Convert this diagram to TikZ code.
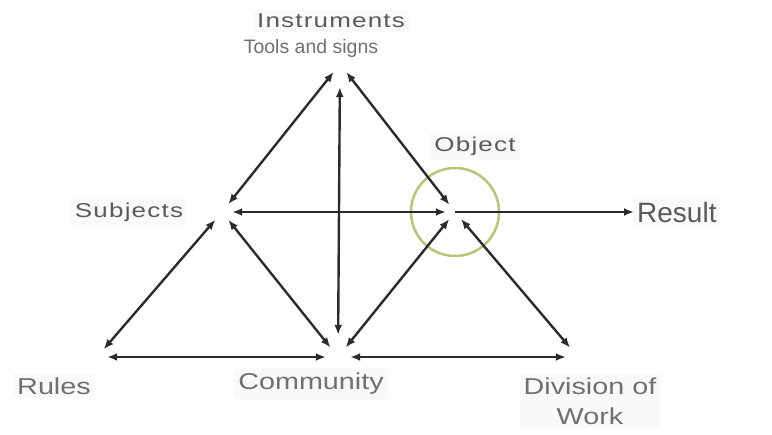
\documentclass[tikz,border=0pt]{standalone}
\usepackage{fontspec}
\setmainfont{Liberation Sans}
\newfontfamily\widefont[FakeStretch=1.3,LetterSpace=6]{Liberation Sans}
\newfontfamily\stretchfont[FakeStretch=1.25]{Liberation Sans}
\usetikzlibrary{arrows.meta}
\definecolor{Ink}{HTML}{2B2B2B}
\definecolor{Label}{HTML}{707070}
\definecolor{LabelDark}{HTML}{5A5A5A}
\definecolor{Halo}{HTML}{BCC377}
\definecolor{Wash}{HTML}{F9F9F9}
\tikzset{
  vertex/.style={circle,minimum size=20pt,inner sep=0pt},
  wide/.style={text=LabelDark,fill=Wash,inner sep=4pt,font=\widefont\fontsize{20}{24}\selectfont},
  tall/.style={text=Label,fill=Wash,inner sep=4pt,align=center,font=\stretchfont\fontsize{23}{30}\selectfont},
  link/.style={{Latex[length=10pt,width=8pt]}-{Latex[length=10pt,width=8pt]},draw=Ink,line width=2.4pt},
  yield/.style={-{Latex[length=10pt,width=8pt]},draw=Ink,line width=2.4pt},
  halo/.style={draw=Halo,line width=2.5pt}
}
\begin{document}
\begin{tikzpicture}[x=1pt,y=-1pt]
  \useasboundingbox (0,0) rectangle (772,435);
  % corner points of the triangles
  \node[vertex] (instr) at (340,64) {};
  \node[vertex] (subj) at (222,212) {};
  \node[vertex,minimum size=18pt] (obj) at (455,212) {};
  \node[vertex,minimum size=24pt] (comm) at (338,357) {};
  \node[vertex] (rules) at (97,357) {};
  \node[vertex,minimum size=24pt] (div) at (578,357) {};
  % labels
  \node[wide] (instrlbl) at (331,21) {Instruments};
  \node[text=Label,font=\fontsize{19.5}{22}\selectfont] (tools) at (311,48) {Tools and signs};
  \node[wide] (objlbl) at (475,146) {Object};
  \node[wide] (subjlbl) at (129,212) {Subjects};
  \node[text=LabelDark,fill=Wash,inner sep=3pt,anchor=west,font=\fontsize{28}{32}\selectfont] (result) at (634,212) {Result};
  \node[tall] (ruleslbl) at (54,386) {Rules};
  \node[tall] (commlbl) at (311,384) {Community};
  \node[tall] (divlbl) at (590,401) {Division of\\Work};
  \draw[halo] (obj.center) circle (44pt);
  % connectors
  \draw[link] (instr) -- (subj);
  \draw[link] (instr) -- (obj);
  \draw[link,shorten <=13pt,shorten >=10pt] (instr) -- (comm);
  \draw[link] (subj) -- (obj);
  \draw[yield] (obj.center) -- (result);
  \draw[link] (subj) -- (rules);
  \draw[link] (subj) -- (comm);
  \draw[link] (comm) -- (obj);
  \draw[link] (obj) -- (div);
  \draw[link] (rules) -- (comm);
  \draw[link] (comm) -- (div);
\end{tikzpicture}
\end{document}
